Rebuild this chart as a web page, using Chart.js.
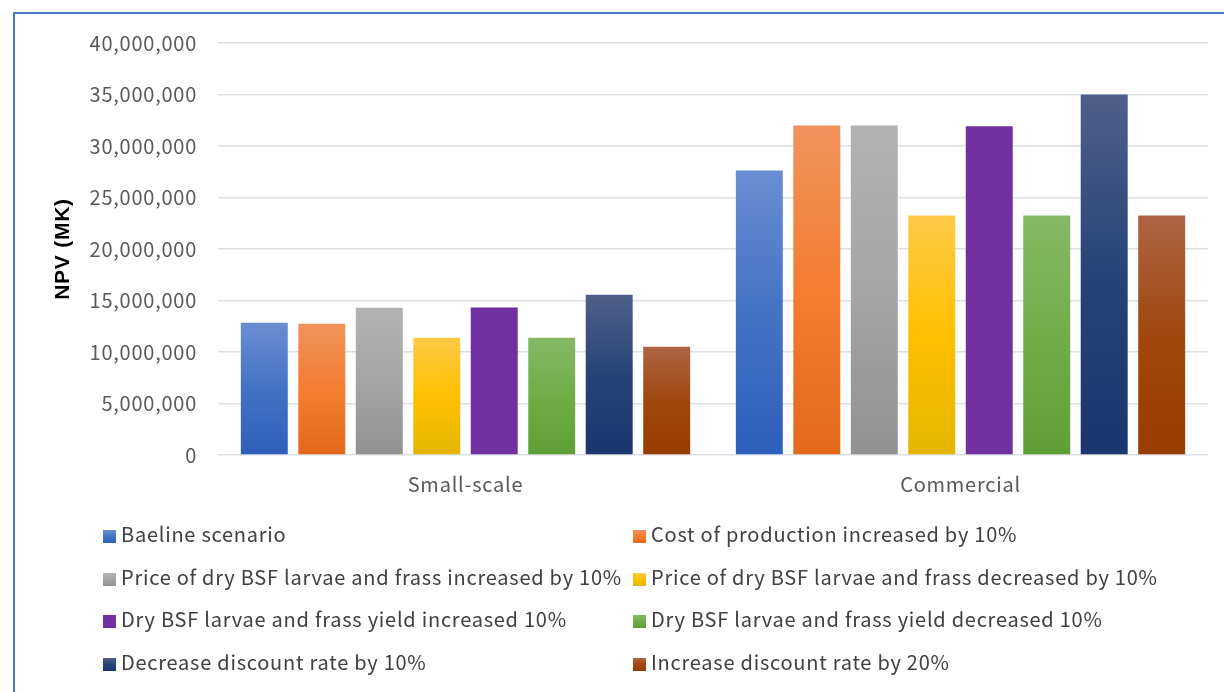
<!DOCTYPE html>
<html>
<head>
<meta charset="utf-8">
<script src="https://cdn.jsdelivr.net/npm/chart.js@4.4.1/dist/chart.umd.min.js"></script>
<style>
  html, body { margin: 0; padding: 0; background: #ffffff; }
  body { width: 1224px; height: 692px; position: relative; overflow: hidden; font-family: "Noto Sans CJK JP", "Noto Sans", sans-serif; }
  #frame { position: absolute; left: 13px; top: 12px; width: 1400px; height: 900px; border-top: 2px solid #4A78C8; border-left: 2px solid #4A78C8; box-sizing: border-box; }
  #wrap { position: absolute; left: 0; top: 0; width: 1224px; height: 500px; }
  #legend { position: absolute; left: 0; top: 0; width: 1224px; height: 692px; pointer-events: none; }
  .item { position: absolute; display: flex; align-items: center; font-size: 20px; color: #404040; white-space: nowrap; line-height: 1; letter-spacing: 0.75px; }
  .sw { width: 13px; height: 13px; margin-right: 5px; flex: none; position: relative; top: 2px; }
</style>
</head>
<body>
<div id="frame"></div>
<div id="wrap"><canvas id="c" width="1224" height="500"></canvas></div>
<div id="legend"></div>
<script>
// ---- data ----
const categories = ["Small-scale", "Commercial"];
const seriesNames = [
  "Baeline scenario",
  "Cost of production increased by 10%",
  "Price of dry BSF larvae and frass increased by 10%",
  "Price of dry BSF larvae and frass decreased by 10%",
  "Dry BSF larvae and frass yield increased 10%",
  "Dry BSF larvae and frass yield decreased 10%",
  "Decrease discount rate by 10%",
  "Increase discount rate by 20%"
];
const baseline       = [12840000, 27620000];
const costUp10       = [12750000, 32000000];
const priceUp10      = [14300000, 32000000];
const priceDown10    = [11390000, 23250000];
const yieldUp10      = [14330000, 31910000];
const yieldDown10    = [11390000, 23250000];
const discountDown10 = [15560000, 35000000];
const discountUp20   = [10510000, 23250000];
const seriesValues = [baseline, costUp10, priceUp10, priceDown10, yieldUp10, yieldDown10, discountDown10, discountUp20];
const yTicks = [0, 5000000, 10000000, 15000000, 20000000, 25000000, 30000000, 35000000, 40000000];

// ---- styles ----
const gradStops = [
  ["#6A8DD3", "#4472C4", "#2E5FBD"],
  ["#F0925C", "#F47D2F", "#E2691A"],
  ["#B2B2B2", "#A5A5A5", "#919191"],
  ["#FFC947", "#FFC000", "#E5B500"],
  ["#7030A0", "#7030A0", "#7030A0"],
  ["#86B865", "#70AD47", "#5F9E35"],
  ["#4F5F8B", "#264478", "#1A356F"],
  ["#AE6344", "#A0480D", "#983C00"]
];

function barFill(i) {
  return function(ctx) {
    const s = gradStops[i];
    if (ctx.type !== 'data') return s[1];
    const chart = ctx.chart;
    const y = chart.scales && chart.scales.y;
    if (!y || !chart.chartArea) return s[1];
    const top = y.getPixelForValue(ctx.raw);
    const bottom = y.getPixelForValue(0);
    if (!isFinite(top) || !isFinite(bottom) || bottom - top < 1) return s[1];
    const g = chart.ctx.createLinearGradient(0, top, 0, bottom);
    g.addColorStop(0, s[0]);
    g.addColorStop(0.5, s[1]);
    g.addColorStop(1, s[2]);
    return g;
  };
}

const FONT = '"Noto Sans CJK JP", "Noto Sans", sans-serif';

const spacingPlugin = {
  id: 'spacing',
  beforeLayout(chart) { chart.ctx.letterSpacing = '0.75px'; },
  beforeDraw(chart) { chart.ctx.letterSpacing = '0.75px'; }
};

new Chart(document.getElementById('c'), {
  type: 'bar',
  plugins: [spacingPlugin],
  data: {
    labels: categories,
    datasets: seriesNames.map((n, i) => ({
      label: n,
      data: seriesValues[i],
      backgroundColor: barFill(i),
      borderWidth: 0,
      categoryPercentage: 0.929,
      barPercentage: 0.817
    }))
  },
  options: {
    responsive: false,
    animation: false,
    devicePixelRatio: 1,
    layout: { padding: { top: 43, right: 16, bottom: 5, left: 0 } },
    plugins: { legend: { display: false }, tooltip: { enabled: false }, title: { display: false } },
    scales: {
      x: {
        grid: { display: false, drawTicks: false },
        border: { display: false },
        ticks: { color: '#595959', font: { family: FONT, size: 20 }, padding: 17 },
        afterFit: (s) => { s.height = 40; }
      },
      y: {
        min: 0, max: 40000000,
        afterBuildTicks: (s) => { s.ticks = yTicks.map(v => ({ value: v })); },
        grid: { color: '#DCDFE5', lineWidth: 1.5, drawTicks: false },
        border: { display: false },
        ticks: {
          color: '#595959', font: { family: FONT, size: 20 }, padding: 21,
          callback: (v) => Number(v).toLocaleString('en-US')
        },
        title: { display: true, text: 'NPV (MK)', color: '#000000', font: { family: '"Liberation Sans", Arial, sans-serif', size: 21, weight: 'bold' }, padding: { top: 51, bottom: 0 } },
        afterFit: (s) => { s.width = 218; }
      }
    }
  }
});

// ---- HTML legend (two columns) ----
const legend = document.getElementById('legend');
const colX = [103, 633];
const rowY = [535, 578, 620, 663];
seriesNames.forEach((n, i) => {
  const d = document.createElement('div');
  d.className = 'item';
  const col = i % 2, row = Math.floor(i / 2);
  d.style.left = colX[col] + 'px';
  d.style.top = (rowY[row] - 11) + 'px';
  const sw = document.createElement('span');
  sw.className = 'sw';
  const s = gradStops[i];
  sw.style.background = 'linear-gradient(' + s[0] + ',' + s[1] + ' 50%,' + s[2] + ')';
  const t = document.createElement('span');
  t.textContent = n;
  d.appendChild(sw); d.appendChild(t);
  legend.appendChild(d);
});
</script>
</body>
</html>
